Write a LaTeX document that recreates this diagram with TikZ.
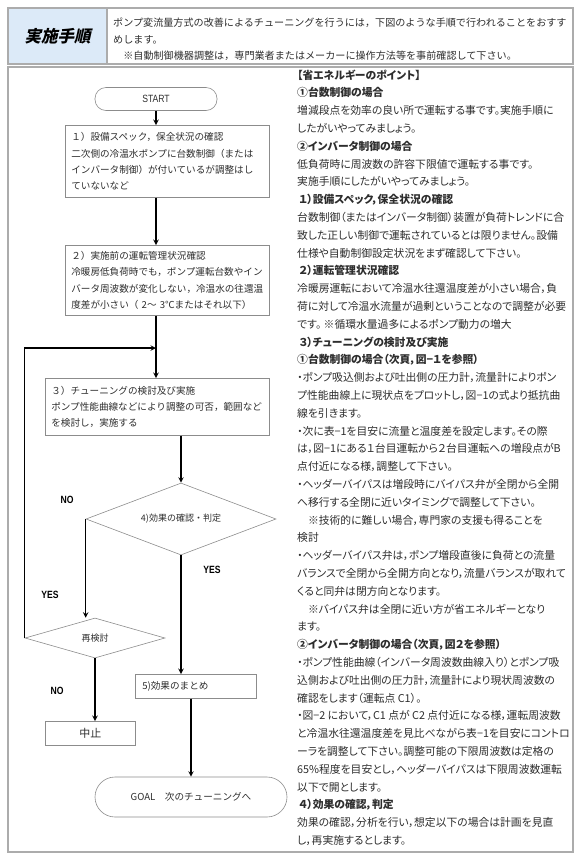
\documentclass[tikz,border=0pt]{standalone}
\usepackage{fontspec}
\usetikzlibrary{shapes.geometric, arrows, positioning}
\newfontfamily\jpfont{Noto Sans CJK JP}
\newfontfamily\jpprop[RawFeature=+palt]{Noto Sans CJK JP}
\newfontfamily\jptitle[FakeSlant=0.22]{Noto Sans CJK JP}
\newfontfamily\condfont[FakeStretch=0.82]{Liberation Sans}
\definecolor{framecolor}{RGB}{172, 172, 172}
\definecolor{boxcolor}{RGB}{140, 140, 140}
\definecolor{headcolor}{RGB}{220, 234, 248}
\definecolor{textcolor}{RGB}{45, 45, 45}
\tikzstyle{stepbox} = [rectangle, draw=boxcolor, line width=0.6pt, anchor=north west, align=left, inner xsep=6pt, inner ysep=0pt, text=textcolor, font=\jpfont\fontsize{9.6}{16.3}\selectfont]
\tikzstyle{terminal} = [rectangle, rounded corners=11pt, draw=boxcolor, line width=0.6pt, text=textcolor]
\tikzstyle{decision} = [diamond, draw=boxcolor, line width=0.6pt, inner sep=0pt, text=textcolor, font=\jpfont\fontsize{9}{11}\selectfont]
\tikzstyle{answer} = [text=black, font=\condfont\bfseries\fontsize{10.5}{12}\selectfont]
\tikzstyle{flowarrow} = [line width=1.4pt, ->, >=stealth]

\begin{document}
\begin{tikzpicture}[x=1pt, y=-1pt]
\useasboundingbox (0,0) rectangle (580,855);

% Frames
\draw [framecolor, line width=1.2pt] (8,8) rectangle (573,64);
\draw [framecolor, line width=1.2pt] (8,67) rectangle (573,852);
\node (title) [draw=framecolor, fill=headcolor, line width=1.2pt, minimum width=99pt, minimum height=56pt, font=\jptitle\bfseries\fontsize{16.5}{18}\selectfont] at (57.5,36) {実施手順};
\node (intro) [anchor=north west, align=left, inner sep=0pt, text=textcolor, font=\jpfont\fontsize{10.1}{16.5}\selectfont] at (113,18) {ポンプ変流量方式の改善によるチューニングを行うには，下図のような手順で行われることをおすす\\めします。\\　※自動制御機器調整は，専門業者またはメーカーに操作方法等を事前確認して下さい。};

% Flow
\node (start) [terminal, minimum width=122pt, minimum height=23pt, font=\condfont\fontsize{10.5}{12}\selectfont] at (156,99) {START};
\node (spec) [stepbox, text width=192pt, minimum height=72pt] at (65,125) {１）設備スペック，保全状況の確認\\二次側の冷温水ポンプに台数制御（または\\インバータ制御）が付いているが調整はし\\ていないなど};
\node (state) [stepbox, text width=192pt, minimum height=70pt] at (65,245) {２）実施前の運転管理状況確認\\冷暖房低負荷時でも，ポンプ運転台数やイン\\バータ周波数が変化しない，冷温水の往還温\\度差が小さい（ 2～ 3℃またはそれ以下）};
\node (tune) [stepbox, text width=212pt, minimum height=57pt] at (45,378) {３）チューニングの検討及び実施\\ポンプ性能曲線などにより調整の可否，範囲など\\を検討し，実施する};
\node (check) [decision, minimum width=190pt, minimum height=72pt, aspect=2.6] at (181,519) {4)効果の確認・判定};
\node (redo) [decision, minimum width=140pt, minimum height=40pt, aspect=3.5] at (95,638) {再検討};
\node (sum) [stepbox, text width=107pt, inner xsep=7pt, minimum height=24pt] at (135,674) {5)効果のまとめ};
\node (stop) [stepbox, align=center, minimum width=90pt, minimum height=24pt, font=\jpfont\fontsize{11}{13}\selectfont] at (45,721) {中止};
\node (goal) [terminal, rounded corners=20pt, minimum width=192pt, minimum height=40pt, font=\jpfont\fontsize{9.6}{12}\selectfont] at (191,797) {GOAL\quad 次のチューニングへ};
\coordinate (merge) at (156,348);

% Arrows
\draw [flowarrow] (start) -- (start |- spec.north);
\draw [flowarrow] (spec.south -| start) -- (state.north -| start);
\draw [flowarrow] (state.south -| start) -- (tune.north -| start);
\draw [flowarrow] (tune.south -| check) -- (check.north);
\draw [flowarrow] (check.west) -- (check.west |- redo.north);
\draw [flowarrow] (redo.west) |- (merge);
\draw [flowarrow] (redo.south) -- (redo.south |- stop.north);
\draw [flowarrow] (check.south) -- (check.south |- sum.north);
\draw [flowarrow] (sum.south -| goal) -- (goal.north);

% Labels
\node (no1) [answer] at (67,500) {NO};
\node (yes1) [answer] at (50,595) {YES};
\node (yes2) [answer] at (212,570) {YES};
\node (no2) [answer] at (57,691) {NO};

% Points
\node (points) [anchor=north west, align=left, inner sep=0pt, text=textcolor, font=\jpprop\fontsize{10.8}{17.8}\selectfont] at (297,69.5) {%
{\bfseries 【省エネルギーのポイント】}\\
{\bfseries ①台数制御の場合}\\
増減段点を効率の良い所で運転する事です。実施手順に\\
したがいやってみましょう。\\
{\bfseries ②インバータ制御の場合}\\
低負荷時に周波数の許容下限値で運転する事です。\\
実施手順にしたがいやってみましょう。\\
{\bfseries \hspace{2pt}１）設備スペック，保全状況の確認}\\
台数制御（またはインバータ制御）装置が負荷トレンドに合\\
致した正しい制御で運転されているとは限りません。設備\\
仕様や自動制御設定状況をまず確認して下さい。\\
{\bfseries \hspace{2pt}２）運転管理状況確認}\\
冷暖房運転において冷温水往還温度差が小さい場合，負\\
荷に対して冷温水流量が過剰ということなので調整が必要\\
です。 ※循環水量過多によるポンプ動力の増大\\
{\bfseries \hspace{2pt}３）チューニングの検討及び実施}\\
{\bfseries ①台数制御の場合（次頁，図−１を参照）}\\
・ポンプ吸込側および吐出側の圧力計，流量計によりポン\\
プ性能曲線上に現状点をプロットし，図−1の式より抵抗曲\\
線を引きます。\\
・次に表−1を目安に流量と温度差を設定します。その際\\
は，図−1にある１台目運転から２台目運転への増段点がB\\
点付近になる様，調整して下さい。\\
・ヘッダーバイパスは増段時にバイパス弁が全閉から全開\\
へ移行する全閉に近いタイミングで調整して下さい。\\
　※技術的に難しい場合，専門家の支援も得ることを\\
検討\\
・ヘッダーバイパス弁は，ポンプ増段直後に負荷との流量\\
バランスで全閉から全開方向となり，流量バランスが取れて\\
くると同弁は閉方向となります。\\
　※バイパス弁は全閉に近い方が省エネルギーとなり\\
ます。\\
{\bfseries ②インバータ制御の場合（次頁，図２を参照）}\\
・ポンプ性能曲線（インバータ周波数曲線入り）とポンプ吸\\
込側および吐出側の圧力計，流量計により現状周波数の\\
確認をします（運転点 C1）。\\
・図−2 において，C1 点が C2 点付近になる様，運転周波数\\
と冷温水往還温度差を見比べながら表−1を目安にコントロ\\
ーラを調整して下さい。調整可能の下限周波数は定格の\\
65\%程度を目安とし，ヘッダーバイパスは下限周波数運転\\
以下で開とします。\\
{\bfseries \hspace{2pt}４）効果の確認，判定}\\
効果の確認，分析を行い，想定以下の場合は計画を見直\\
し，再実施するとします。};

\end{tikzpicture}
\end{document}
